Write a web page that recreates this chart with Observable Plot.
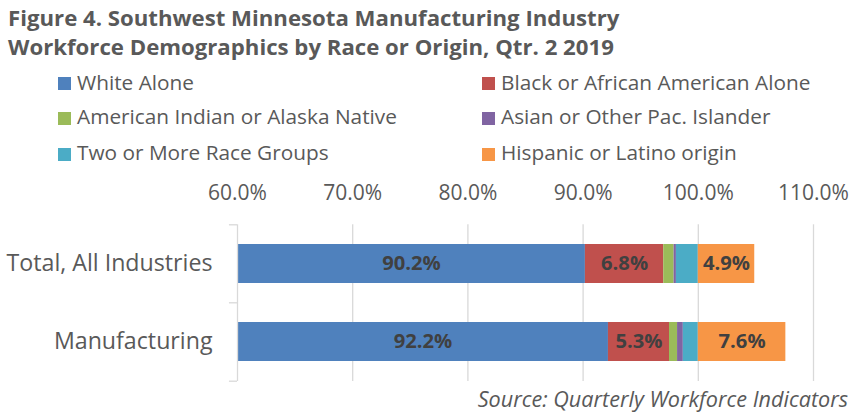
<!DOCTYPE html>
<html><head><meta charset="utf-8">
<script src="https://cdn.jsdelivr.net/npm/d3@7"></script>
<script src="https://cdn.jsdelivr.net/npm/@observablehq/plot@0.6"></script>
<style>
body{margin:0;width:860px;height:419px;position:relative;overflow:hidden;background:#fff;font-family:"Open Sans",sans-serif;color:#595959}
.abs{position:absolute;white-space:nowrap}
.sw{position:absolute;width:13px;height:13px}
</style></head>
<body>
<div id="root"></div>
<script>
// ---- data ----
const titleLines = ["Figure 4. Southwest Minnesota Manufacturing Industry", "Workforce Demographics by Race or Origin, Qtr. 2 2019"];
const categories = ["Total, All Industries", "Manufacturing"];
const races = ["White Alone", "Black or African American Alone", "American Indian or Alaska Native", "Asian or Other Pac. Islander", "Two or More Race Groups", "Hispanic or Latino origin"];
const colors = ["#4F81BD", "#C0504D", "#9BBB59", "#8064A2", "#4BACC6", "#F79646"];
const totalValues = [90.2, 6.8, 0.9, 0.2, 1.9, 4.9];
const manufacturingValues = [92.2, 5.3, 0.7, 0.5, 1.3, 7.6];
const labeled = [true, true, false, false, false, true];
const xTicks = [60, 70, 80, 90, 100, 110];
const source = "Source: Quarterly Workforce Indicators";

// ---- build table ----
const xMin = 60;
const rows = [];
[totalValues, manufacturingValues].forEach((vals, ci) => {
  let acc = 0;
  vals.forEach((v, ri) => {
    rows.push({cat: categories[ci], race: races[ri], value: v, start: acc, end: acc + v, labeled: labeled[ri]});
    acc += v;
  });
});

const root = document.getElementById("root");
function baselineTop(b, fs, lh){ return b - ((lh - 1.362*fs)/2 + 1.069*fs); }
function addText(txt, x, baseline, fs, style, anchorRight){
  const d = document.createElement("div");
  d.className = "abs";
  d.textContent = txt;
  d.style.fontSize = fs + "px";
  d.style.lineHeight = "30px";
  d.style.top = baselineTop(baseline, fs, 30) + "px";
  if (anchorRight) d.style.right = (860 - x) + "px"; else d.style.left = x + "px";
  Object.assign(d.style, style || {});
  root.appendChild(d);
}
// title
addText(titleLines[0], 8, 26.7, 22.2, {fontWeight: "bold"});
addText(titleLines[1], 8, 56, 22.2, {fontWeight: "bold"});
// legend
const legX = [58, 482], legB = [90, 124.5, 160.5];
races.forEach((r, i) => {
  const col = i % 2, row = Math.floor(i / 2);
  const s = document.createElement("div");
  s.className = "sw";
  s.style.left = legX[col] + "px";
  s.style.top = (legB[row] - 13) + "px";
  s.style.background = colors[i];
  root.appendChild(s);
  addText(r, legX[col] + 19, legB[row], 20.8);
});
// caption
addText(source, 848, 407.5, 21.6, {fontStyle: "italic"}, true);

// ---- plot ----
const svgTop = 160;
const chart = Plot.plot({
  width: 860,
  height: 230,
  marginTop: 64.3,
  marginBottom: 9,
  marginLeft: 237,
  marginRight: 47,
  style: {fontFamily: "'Open Sans', sans-serif", color: "#595959", background: "transparent", overflow: "visible"},
  x: {domain: [60, 110], label: null},
  y: {domain: categories, paddingInner: 0.5, paddingOuter: 0.25, label: null},
  color: {domain: races, range: colors},
  marks: [
    Plot.gridX(xTicks.slice(1), {stroke: "#d9d9d9", strokeOpacity: 1, strokeWidth: 1.3}),
    Plot.barX(rows, {x1: "start", x2: "end", y: "cat", fill: "race", clip: true}),
    Plot.ruleX([xMin], {stroke: "#d9d9d9", strokeWidth: 1.3}),
    Plot.ruleY(categories, {y: d => d, x1: xMin - 0.7, x2: xMin, dy: -39.2, stroke: "#d9d9d9", strokeWidth: 1.3}),
    Plot.ruleY(categories.slice(-1), {y: d => d, x1: xMin - 0.7, x2: xMin, dy: 39.2, stroke: "#d9d9d9", strokeWidth: 1.3}),
    Plot.text(rows.filter(d => d.labeled), {
      x: d => (Math.max(d.start, xMin) + d.end) / 2, y: "cat",
      text: d => d.value.toFixed(1) + "%",
      fill: "#404040", fontWeight: "bold", fontSize: 20.2
    }),
    Plot.axisX(xTicks, {anchor: "top", tickSize: 0, tickPadding: 24.7, label: null, tickFormat: d => d.toFixed(1) + "%", fontSize: 21, fill: "#595959"}),
    Plot.axisY({tickSize: 0, tickPadding: 25, label: null, fontSize: 23.2, fill: "#595959"})
  ]
});
chart.style.position = "absolute";
chart.style.left = "0px";
chart.style.top = svgTop + "px";
root.appendChild(chart);
</script>
</body></html>
